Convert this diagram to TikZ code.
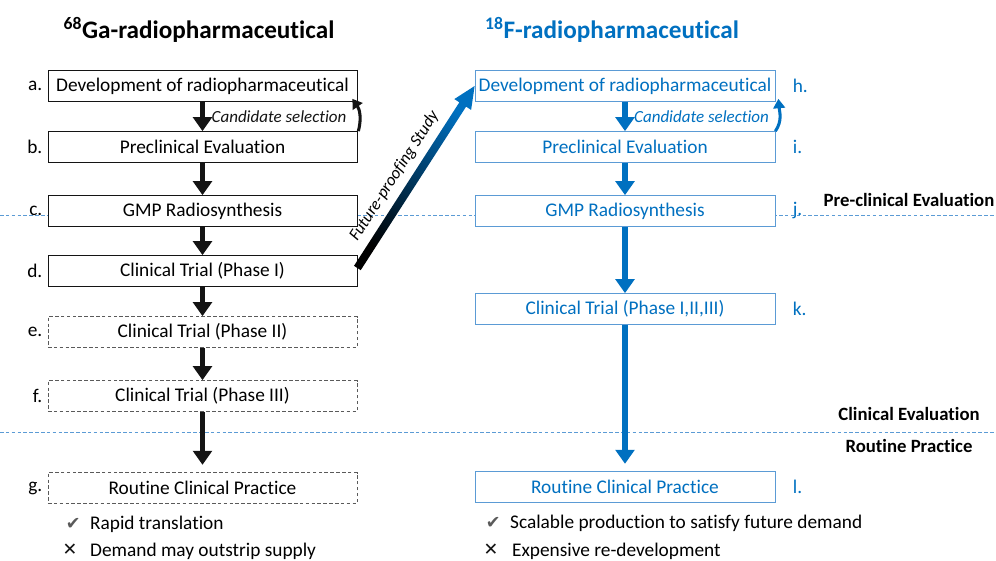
\documentclass[tikz,border=0pt]{standalone}
\usepackage{fontspec}
\setmainfont{Carlito}[Ligatures=NoCommon]
\newfontfamily\symfont{DejaVu Sans}
\usepackage{xcolor}
\definecolor{ofblue}{RGB}{0,112,192}
\definecolor{paleblue}{RGB}{91,155,213}
\definecolor{coal}{RGB}{20,20,20}
\definecolor{slate}{RGB}{90,90,90}
\usetikzlibrary{arrows.meta,positioning,calc}

\begin{document}
\begin{tikzpicture}[
  x=0.03cm, y=-0.03cm,
  box/.style={rectangle,draw=coal,fill=white,line width=0.6pt,
              minimum width=9.27cm,minimum height=0.93cm,inner sep=0pt,
              font=\fontsize{16.5}{18}\selectfont},
  dbox/.style={box,draw=slate,dash pattern=on 3pt off 2pt},
  fbox/.style={box,draw=paleblue,text=ofblue,minimum width=9cm},
  tag/.style={font=\fontsize{16.5}{18}\selectfont},
  ftag/.style={tag,text=ofblue},
  stage/.style={font=\fontsize{16}{18}\selectfont\bfseries},
  ttl/.style={font=\fontsize{21.5}{25}\selectfont\bfseries},
  ar/.style={-{Triangle[width=16pt,length=12pt]},line width=5pt,coal},
  far/.style={ar,ofblue},
  loopar/.style={-{Triangle[width=10pt,length=8pt]},line width=2.6pt},
  cand/.style={font=\fontsize{14.5}{16}\selectfont\itshape},
  phase/.style={paleblue,line width=0.6pt,dash pattern=on 3pt off 2pt},
  note/.style={anchor=west,font=\fontsize{16.5}{18}\selectfont},
  chk/.style={font=\symfont\fontsize{15}{17}\selectfont,text=slate},
  crs/.style={font=\symfont\fontsize{15}{17}\selectfont,text=coal},
]
\useasboundingbox (0,0) rectangle (996,561);

% stage dividers
\draw[phase] (0,215) -- (996,215);
\draw[phase] (0,432) -- (996,432);
\node[stage] (pre) at (909,200) {Pre-clinical Evaluation};
\node[stage] (clin) at (909,414) {Clinical Evaluation};
\node[stage] (rout) at (909,446) {Routine Practice};

% titles
\node[ttl] (tga) at (199,30) {\textsuperscript{68}Ga-radiopharmaceutical};
\node[ttl,text=ofblue] (tf) at (612,30) {\textsuperscript{18}F-radiopharmaceutical};

% Ga-68 route
\node[box] (a) at (202.5,86) {Development of radiopharmaceutical};
\node[box] (b) at (202.5,147) {Preclinical Evaluation};
\node[box] (c) at (202.5,211) {GMP Radiosynthesis};
\node[box] (d) at (202.5,271) {Clinical Trial (Phase I)};
\node[dbox] (e) at (202.5,332) {Clinical Trial (Phase II)};
\node[dbox] (f) at (202.5,396) {Clinical Trial (Phase III)};
\node[dbox] (g) at (202.5,488) {Routine Clinical Practice};
\foreach \n/\t in {a/a.,b/b.,c/c.,d/d.,e/e.,f/f.,g/g.}
  \node[tag,left=1pt of \n] (t\n) {\t};

\draw[ar] (a) -- node[cand,right=2pt] (csa) {Candidate selection} (b);
\foreach \s/\t in {b/c,c/d,d/e,e/f}
  \draw[ar] (\s) -- (\t);
\draw[ar,shorten >=0.22cm] (f) -- (g);
\draw[loopar,coal] ([xshift=0.03cm]b.north east) to[out=75,in=-55]
  ([xshift=-0.15cm,yshift=0.09cm]a.south east);

% F-18 route
\node[fbox] (h) at (625,86) {Development of radiopharmaceutical};
\node[fbox] (i) at (625,147) {Preclinical Evaluation};
\node[fbox] (j) at (625,211) {GMP Radiosynthesis};
\node[fbox] (k) at (625,309) {Clinical Trial (Phase I,II,III)};
\node[fbox] (l) at (625,487) {Routine Clinical Practice};
\foreach \n/\t in {h/h.,i/i.,j/j.,k/k.,l/l.}
  \node[ftag,right=0.4cm of \n] (t\n) {\t};

\draw[far] (h) -- node[cand,text=ofblue,right=2pt] (csh) {Candidate selection} (i);
\foreach \s/\t in {i/j,j/k}
  \draw[far] (\s) -- (\t);
\draw[far,shorten >=0.22cm] (k) -- (l);
\draw[loopar,ofblue] (i.north east) to[out=55,in=-85]
  ([xshift=0.09cm,yshift=0.09cm]h.south east);

% future-proofing arrow, shaded black to blue
\coordinate (fpS) at ([yshift=0.09cm]d.east);
\coordinate (fpE) at (h.west);
\coordinate (fpN) at ($(fpE)!0.66cm!(fpS)$);
\shade[top color=ofblue,bottom color=black,shading angle=-33]
  ($(fpS)!0.12cm!90:(fpE)$) -- ($(fpN)!0.12cm!90:(fpE)$)
  -- ($(fpN)!0.30cm!90:(fpE)$) -- (fpE)
  -- ($(fpN)!0.30cm!-90:(fpE)$) -- ($(fpN)!0.12cm!-90:(fpE)$)
  -- ($(fpS)!0.12cm!-90:(fpE)$) -- cycle;
\path (fpS) -- node[cand,sloped,above=6pt,pos=0.45] (fps) {Future-proofing Study} (fpE);

% pros and cons
\node[note] (pga) at (86,524) {Rapid translation};
\node[chk,left=1pt of pga] (cga) {✔};
\node[note] (nga) at (86,551) {Demand may outstrip supply};
\node[crs] (xga) at (70,550) {✕};
\node[note] (pf) at (506,523) {Scalable production to satisfy future demand};
\node[chk,left=1pt of pf] (cf) {✔};
\node[note] (nf) at (508,551) {Expensive re-development};
\node[crs] (xf) at (491,550) {✕};
\end{tikzpicture}
\end{document}
